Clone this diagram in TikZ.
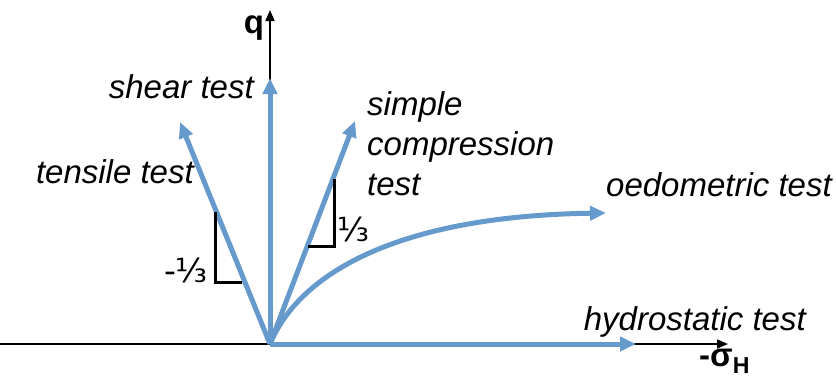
\documentclass[tikz,border=0pt]{standalone}
\usepackage{fontspec}
\setmainfont{Liberation Sans}
\newfontfamily\symfont{DejaVu Sans}
\usetikzlibrary{arrows.meta}
\definecolor{pathblue}{RGB}{102,153,204}
\begin{document}
\begin{tikzpicture}[x=1pt,y=-1pt,
  path/.style={draw=pathblue,line width=5pt,-{Triangle[length=16pt,width=14pt]}},
  axis/.style={draw=black,line width=1.6pt,-{Triangle[length=11pt,width=9pt]}},
  slope/.style={draw=black,line width=3pt},
  lbl/.style={font=\fontsize{33}{40}\selectfont\itshape,inner sep=0pt},
  axlbl/.style={font=\fontsize{33}{40}\selectfont\bfseries,inner sep=0pt},
  frac/.style={font=\fontsize{33}{38}\selectfont\symfont,inner sep=0pt}]
\useasboundingbox (0,0) rectangle (836,380);
% coordinates
\coordinate (O) at (270,344);
\coordinate (axL) at (0,344);
\coordinate (axR) at (728,344);
\coordinate (axT) at (270,10);
\coordinate (shearE) at (270,78);
\coordinate (tensE) at (180,122);
\coordinate (compE) at (355,121);
\coordinate (oedE) at (606,213);
\coordinate (hydE) at (636,344);
% axes
\draw[axis] (axL) -- (axR);
\draw[axis] (O) -- (axT);
% stress paths
\draw[path] (O) -- (shearE);
\draw[path] (O) -- (tensE);
\draw[path] (O) -- (compE);
\draw[path] (O) -- (hydE);
\draw[path] (O) .. controls (300,272) and (400,216) .. (oedE);
% slope triangles
\coordinate (t1a) at (215,212);
\coordinate (t1b) at (215,282);
\coordinate (t1c) at (242,282);
\draw[slope] (t1a) -- (t1b) -- (t1c);
\coordinate (t2a) at (334,179);
\coordinate (t2b) at (334,246);
\coordinate (t2c) at (308,246);
\draw[slope] (t2a) -- (t2b) -- (t2c);
% labels
\node[axlbl,anchor=base] (q) at (254,33) {q};
\node[axlbl,anchor=base west] (sig) at (699,366) {-σ\textsubscript{H}};
\node[lbl,anchor=base east] (shear) at (254,98) {shear test};
\node[lbl,anchor=base east] (tens) at (194,183) {tensile test};
\node[lbl,anchor=base west] (comp1) at (367,115) {simple};
\node[lbl,anchor=base west] (comp2) at (367,155) {compression};
\node[lbl,anchor=base west] (comp3) at (367,195) {test};
\node[lbl,anchor=base east] (oed) at (832,196) {oedometric test};
\node[lbl,anchor=base east] (hyd) at (806,330) {hydrostatic test};
\node[frac] (f1) at (186,270) {-⅓};
\node[frac] (f2) at (353,229) {⅓};
\end{tikzpicture}
\end{document}
